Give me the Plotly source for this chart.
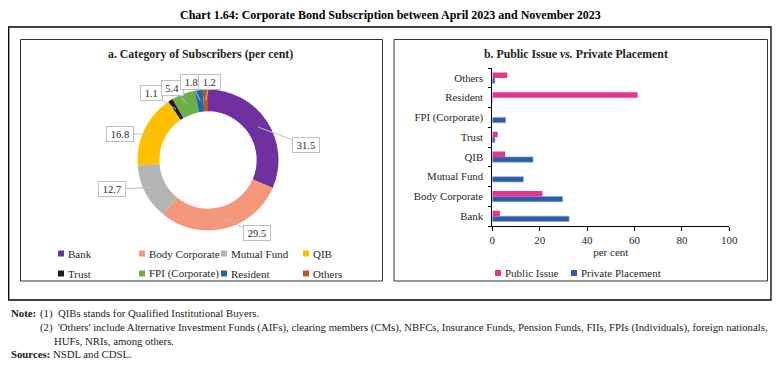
import math
import plotly.graph_objects as go

# ---------------- data ----------------
donut_labels = ["Bank", "Body Corporate", "Mutual Fund", "QIB", "Trust",
                "FPI (Corporate)", "Resident", "Others"]
donut_values = [31.5, 29.5, 12.7, 16.8, 1.1, 5.4, 1.8, 1.2]

bar_categories = ["Bank", "Body Corporate", "Mutual Fund", "QIB", "Trust",
                  "FPI (Corporate)", "Resident", "Others"]
public_issue = [3.2, 21.1, 0.0, 5.4, 2.3, 0.0, 61.3, 6.3]
private_placement = [32.4, 29.7, 13.1, 17.2, 1.1, 5.6, 0.0, 1.1]

x_ticks = [0, 20, 40, 60, 80, 100]

# ---------------- styles ----------------
OFF = 8  # page body margin in the browser (on every side)
W, H = 780 - 2 * OFF, 369 - 2 * OFF
FONT = "Liberation Serif"
TXT = "#1f1f1f"
donut_colors = ["#7030A0", "#F4977A", "#B4B4B4", "#FFC000", "#1C1C1C",
                "#6DB048", "#1F69A8", "#C0561C"]
PINK = "#E6358F"
BLUE = "#2E5CA8"


def fx(px):
    return (px - OFF) / W


def fy(py):
    return 1 - (py - OFF) / H


fig = go.Figure()

# donut
cx, cy, r_out = 208.0, 160.0, 70.5
fig.add_trace(go.Pie(
    labels=donut_labels, values=donut_values, hole=0.69, sort=False,
    direction="clockwise", rotation=0, textinfo="none",
    marker=dict(colors=donut_colors, line=dict(width=0)),
    domain=dict(x=[fx(cx - r_out), fx(cx + r_out)], y=[fy(cy + r_out), fy(cy - r_out)]),
    showlegend=False,
))

# bars (Private first so Public sits on top of each pair)
fig.add_trace(go.Bar(
    y=bar_categories, x=private_placement, orientation="h", name="Private Placement",
    marker=dict(color=BLUE, line=dict(color="#8FA8D6", width=0.6)), showlegend=False,
))
fig.add_trace(go.Bar(
    y=bar_categories, x=public_issue, orientation="h", name="Public Issue",
    marker=dict(color=PINK, line=dict(width=0)), showlegend=False,
))

shapes = []
annotations = []

# frames
shapes.append(dict(type="rect", xref="paper", yref="paper", x0=fx(8.7), x1=fx(771),
                   y0=fy(300), y1=fy(27), line=dict(color="#000", width=1.3)))
shapes.append(dict(type="rect", xref="paper", yref="paper", x0=fx(20.5), x1=fx(382.5),
                   y0=fy(281), y1=fy(39.5), line=dict(color="#333", width=1)))
shapes.append(dict(type="rect", xref="paper", yref="paper", x0=fx(394), x1=fx(767.5),
                   y0=fy(281), y1=fy(39.5), line=dict(color="#333", width=1)))

# titles
annotations.append(dict(text="<b>Chart 1.64: Corporate Bond Subscription between April 2023 and November 2023</b>",
                        x=fx(390), y=fy(15.2), xref="paper", yref="paper", showarrow=False,
                        font=dict(family=FONT, size=12, color="#000"), xanchor="center", yanchor="middle"))
annotations.append(dict(text="<b>a. Category of Subscribers (per cent)</b>",
                        x=fx(201), y=fy(54), xref="paper", yref="paper", showarrow=False,
                        font=dict(family=FONT, size=11.8, color=TXT), xanchor="center", yanchor="middle"))
annotations.append(dict(text="<b>b. Public Issue <i>vs.</i> Private Placement</b>",
                        x=fx(576), y=fy(54), xref="paper", yref="paper", showarrow=False,
                        font=dict(family=FONT, size=11.8, color=TXT), xanchor="center", yanchor="middle"))

# donut value labels with leader lines (anchor point computed from data)
label_offsets = [(48, 18), (35, 15), (-43, 1), (-34, 0), (-25, -16), (-14, -16), (-9, -19), (4, -18)]
total = sum(donut_values)
cum = 0.0
r_mid = 60.0
for v, (ax, ay) in zip(donut_values, label_offsets):
    mid = (cum + v / 2) / total
    cum += v
    th = 2 * math.pi * mid
    px_ = cx + r_mid * math.sin(th)
    py_ = cy - r_mid * math.cos(th)
    txt = f"{v:.1f}"
    annotations.append(dict(
        text=txt, x=fx(px_), y=fy(py_), xref="paper", yref="paper",
        showarrow=True, arrowhead=0, arrowwidth=1, arrowcolor="#BFBFBF",
        ax=ax, ay=ay, bgcolor="white", bordercolor="#BFBFBF", borderwidth=1,
        borderpad=1, width=len(txt) * 5.5 + 2, height=12,
        font=dict(family=FONT, size=10.5, color=TXT),
    ))

# manual legend for donut (2 rows x 4 columns)
leg_cols = [61, 142, 224, 306]
leg_rows = [253.5, 273.5]
for i, (lab, col) in enumerate(zip(donut_labels, donut_colors)):
    sx = leg_cols[i % 4]
    sy = leg_rows[i // 4]
    shapes.append(dict(type="rect", xref="paper", yref="paper",
                       x0=fx(sx - 3), x1=fx(sx + 3), y0=fy(sy + 3), y1=fy(sy - 3),
                       fillcolor=col, line=dict(width=0)))
    annotations.append(dict(text=lab, x=fx(sx + 4.5), y=fy(sy), xref="paper", yref="paper",
                            showarrow=False, xanchor="left", yanchor="middle",
                            font=dict(family=FONT, size=11, color=TXT)))

# manual legend for bars
for lab, col, sx in [("Public Issue", PINK, 498), ("Private Placement", BLUE, 574)]:
    sy = 273
    shapes.append(dict(type="rect", xref="paper", yref="paper",
                       x0=fx(sx - 3), x1=fx(sx + 3), y0=fy(sy + 3), y1=fy(sy - 3),
                       fillcolor=col, line=dict(width=0)))
    annotations.append(dict(text=lab, x=fx(sx + 4.5), y=fy(sy), xref="paper", yref="paper",
                            showarrow=False, xanchor="left", yanchor="middle",
                            font=dict(family=FONT, size=11, color=TXT)))

# notes
note_font = dict(family=FONT, size=10.75, color="#1a1a1a")
annotations += [
    dict(text="<b>Note:</b>", x=fx(8.5), y=fy(313), xref="paper", yref="paper", showarrow=False,
         xanchor="left", yanchor="middle", font=note_font),
    dict(text="(1)  QIBs stands for Qualified Institutional Buyers.", x=fx(38), y=fy(313),
         xref="paper", yref="paper", showarrow=False, xanchor="left", yanchor="middle", font=note_font),
    dict(text="(2)  'Others' include Alternative Investment Funds (AIFs), clearing members (CMs), NBFCs, "
              "Insurance Funds, Pension Funds, FIIs, FPIs (Individuals), foreign nationals,",
         x=fx(38), y=fy(327), xref="paper", yref="paper", showarrow=False, xanchor="left",
         yanchor="middle", font=note_font),
    dict(text="HUFs, NRIs, among others.", x=fx(52), y=fy(340.5), xref="paper", yref="paper",
         showarrow=False, xanchor="left", yanchor="middle", font=note_font),
    dict(text="<b>Sources:</b> NSDL and CDSL.", x=fx(8.5), y=fy(353.5), xref="paper", yref="paper",
         showarrow=False, xanchor="left", yanchor="middle", font=note_font),
]

fig.update_layout(
    width=W, height=H, autosize=False,
    margin=dict(l=0, r=0, t=0, b=0, pad=0),
    paper_bgcolor="white", plot_bgcolor="white",
    barmode="group", bargap=0.46, bargroupgap=0.0,
    font=dict(family=FONT, color=TXT),
    xaxis=dict(domain=[fx(492.3), fx(729.3)], anchor="y", range=[0, 100],
               tickvals=x_ticks, ticktext=[str(t) for t in x_ticks],
               ticks="outside", ticklen=4, tickcolor="#000", showline=True, linecolor="#000",
               linewidth=1, showgrid=False, zeroline=False, automargin=False,
               tickfont=dict(family=FONT, size=11, color=TXT),
               title=dict(text="per cent", font=dict(family=FONT, size=11, color=TXT), standoff=3)),
    yaxis=dict(domain=[fy(226), fy(68)], anchor="x", type="category",
               categoryorder="array", categoryarray=bar_categories, range=[-0.5, 7.5],
               ticks="outside", ticklen=3, tickcolor="#000", tickson="boundaries",
               ticklabelstandoff=6, automargin=False,
               showline=True, linecolor="#000", linewidth=1, showgrid=False, zeroline=False,
               tickfont=dict(family=FONT, size=10.8, color=TXT)),
    shapes=shapes,
    annotations=annotations,
)

fig.write_html("out.html")
